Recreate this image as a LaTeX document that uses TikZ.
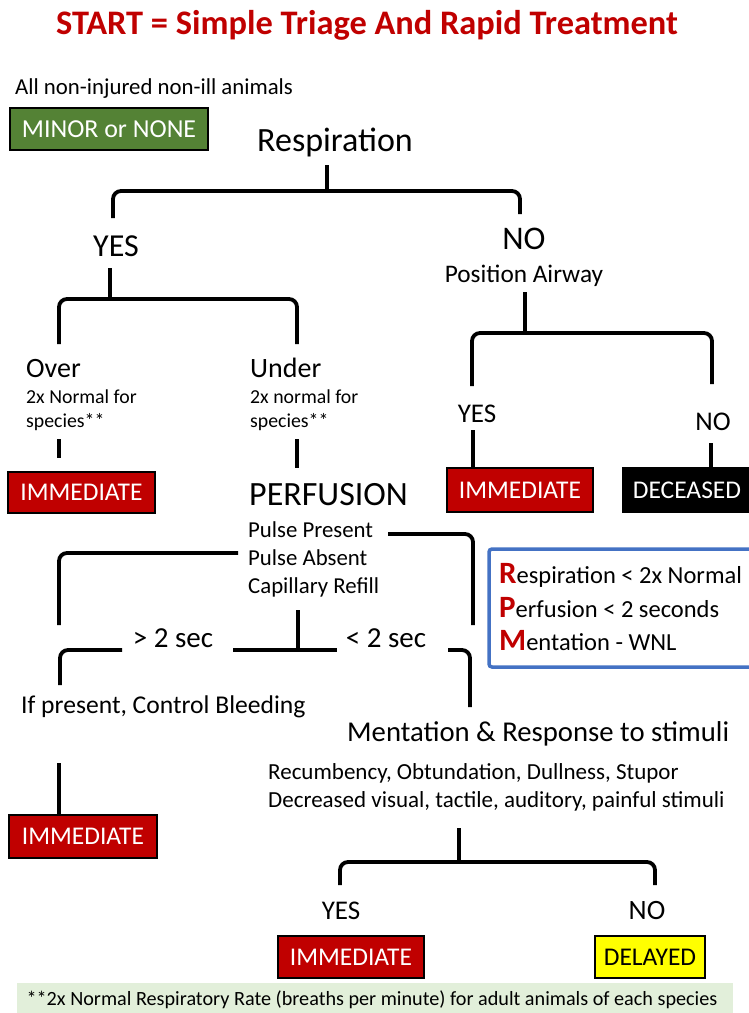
\documentclass[tikz,border=0pt]{standalone}
\usepackage{fontspec}
\setmainfont{Carlito}
\definecolor{tred}{HTML}{C00000}
\definecolor{tgreen}{HTML}{548235}
\definecolor{tblue}{HTML}{4472C4}
\definecolor{tpale}{HTML}{E2EFDA}
\definecolor{tyellow}{HTML}{FFFF00}
\newcommand{\fs}[1]{\fontsize{#1}{#1}\selectfont}
\begin{document}
\begin{tikzpicture}[x=1pt,y=-1pt]
\tikzset{
  br/.style={line width=3.8pt, rounded corners=8pt},
  stub/.style={line width=3.8pt},
  lbl/.style={inner sep=0pt, anchor=base},
  lblw/.style={inner sep=0pt, anchor=base west},
  tag/.style={draw=black, line width=2pt, inner sep=0pt, font=\fs{25.5}},
  immed/.style={tag, fill=tred, text=white},
  bigr/.style={},
}
\useasboundingbox (0,0) rectangle (748,1013);
\fill[white] (0,0) rectangle (748,1013);

% title
\node[lbl, text=tred, font=\bfseries\fs{34.4}] (title) at (367,34) {START = Simple Triage And Rapid Treatment};

\node[lblw, font=\fs{22.8}] (allnon) at (15,94) {All non-injured non-ill animals};
\node[tag, fill=tgreen, text=white, minimum width=198pt, minimum height=42pt, font=\fs{25.9}] (minor) at (109,129) {MINOR or NONE};

\node[lbl, font=\fs{34}] (resp) at (335,151) {Respiration};

\node[lbl, font=\fs{32}] (yes1) at (116,256) {YES};
\node[lbl, font=\fs{33}] (no1) at (524,249) {NO};
\node[lbl, font=\fs{25.3}] (posair) at (524,282) {Position Airway};

\node[lblw, font=\fs{28}] (over) at (26,377) {Over};
\node[lblw, font=\fs{19.8}] (overs) at (26,403) {2x Normal for};
\node[lblw, font=\fs{19.8}] (overs2) at (26,427) {species**};
\node[lblw, font=\fs{28}] (under) at (250,377) {Under};
\node[lblw, font=\fs{19.8}] (unders) at (250,403) {2x normal for};
\node[lblw, font=\fs{19.8}] (unders2) at (250,427) {species**};

\node[immed, minimum width=147pt, minimum height=41pt] (imm1) at (81.5,492.5) {IMMEDIATE};
\node[lblw, font=\fs{34}] (perf) at (249,505) {PERFUSION};

\node[lbl, font=\fs{27}] (yes2) at (477,422) {YES};
\node[lbl, font=\fs{27}] (no2) at (713,430) {NO};
\node[immed, minimum width=146pt, minimum height=44pt] (imm2) at (520,490) {IMMEDIATE};
\node[tag, fill=black, text=white, minimum width=128pt, minimum height=44pt] (dec) at (687,490) {DECEASED};

\node[lblw, font=\fs{22.8}] (pp) at (248,537) {Pulse Present};
\node[lblw, font=\fs{22.8}] (pa) at (248,565) {Pulse Absent};
\node[lblw, font=\fs{22.8}] (cr) at (248,593) {Capillary Refill};

\node[lbl, font=\fs{29}] (gt) at (173,647) {> 2 sec};
\node[lbl, font=\fs{29}] (lt) at (386,647) {< 2 sec};
\node[lblw, font=\fs{25.6}] (ifp) at (21,713) {If present, Control Bleeding};

\draw[tblue, line width=3.5pt, rounded corners=3pt] (489,549) rectangle (770,667);
\node[lblw, font=\fs{24.5}] (rr) at (499,583) {\textcolor{tred}{\bfseries\fs{31}R}espiration < 2x Normal};
\node[lblw, font=\fs{24.5}] (rp) at (499,617) {\textcolor{tred}{\bfseries\fs{31}P}erfusion < 2 seconds};
\node[lblw, font=\fs{24.5}] (rm) at (499,650) {\textcolor{tred}{\bfseries\fs{31}M}entation - WNL};

\node[lblw, font=\fs{28.7}] (ment) at (347,741) {Mentation \& Response to stimuli};
\node[lblw, font=\fs{23}] (rec) at (268,779) {Recumbency, Obtundation, Dullness, Stupor};
\node[lblw, font=\fs{23}] (decr) at (268,807) {Decreased visual, tactile, auditory, painful stimuli};

\node[immed, minimum width=148pt, minimum height=43pt] (imm3) at (83,836.5) {IMMEDIATE};

\node[lbl, font=\fs{27}] (yes3) at (341,919) {YES};
\node[lbl, font=\fs{28}] (no3) at (647,919) {NO};
\node[immed, minimum width=146pt, minimum height=42pt] (imm4) at (351,957) {IMMEDIATE};
\node[tag, fill=tyellow, text=black, minimum width=110pt, minimum height=42pt] (del) at (650,957) {DELAYED};

\fill[tpale] (17,983) rectangle (733,1020);
\node[lbl, font=\fs{20.2}] (foot) at (372,1005) {**2x Normal Respiratory Rate (breaths per minute) for adult animals of each species};

% connectors
\draw[stub] (327,165) -- (327,191);
\draw[br] (113,218) -- (113,191) -- (520,191) -- (520,214);
\draw[stub] (110,268) -- (110,299);
\draw[br] (59,344) -- (59,299) -- (297,299) -- (297,344);
\draw[stub] (59,439) -- (59,458);
\draw[stub] (297,439) -- (297,468);
\draw[stub] (525,292) -- (525,333);
\draw[br] (472,386) -- (472,333) -- (712,333) -- (712,384);
\draw[stub] (473,430) -- (473,467);
\draw[stub] (711,443) -- (711,467);
\draw[br] (238,553) -- (59,553) -- (59,625);
\draw[br] (388,534) -- (473,534) -- (473,625);
\draw[stub] (298,610) -- (298,650);
\draw[stub] (233,650) -- (337,650);
\draw[br] (122,650) -- (60,650) -- (60,685);
\draw[br] (448,650) -- (470,650) -- (470,707);
\draw[stub] (59,763) -- (59,815);
\draw[stub] (459,828) -- (459,862);
\draw[br] (340,885) -- (340,862) -- (655,862) -- (655,885);
\end{tikzpicture}
\end{document}
